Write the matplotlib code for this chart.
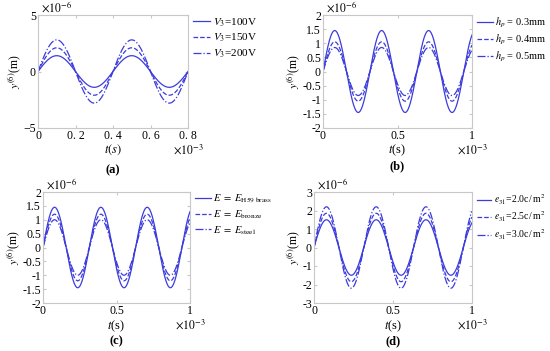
import numpy as np
import matplotlib
matplotlib.use("Agg")
import matplotlib.pyplot as plt

plt.rcParams["font.family"] = "serif"
plt.rcParams["font.serif"] = ["Liberation Serif", "DejaVu Serif"]
plt.rcParams["mathtext.fontset"] = "stix"
plt.rcParams["axes.unicode_minus"] = False

# values (t in 1e-3 s, y in 1e-6 m)
t_end_a = 0.8
period_a = 0.4
amp_a = [1.4, 2.1, 2.8]
labels_a = [r"$V_3$=100V", r"$V_3$=150V", r"$V_3$=200V"]

t_end_bcd = 1.0
period_bcd = 0.315
amp_b = [1.45, 1.05, 0.85]
labels_b = [r"$h_p$ = 0.3mm", r"$h_p$ = 0.4mm", r"$h_p$ = 0.5mm"]
amp_c = [1.45, 1.2, 1.0]
labels_c = [r"$E\ =\ E_{\rm H59\ brass}$", r"$E\ =\ E_{\rm bronze}$", r"$E\ =\ E_{\rm steel}$"]
amp_d = [1.5, 1.85, 2.2]
labels_d = [r"$e_{31}$=2.0c$\,$/$\,$m$^2$", r"$e_{31}$=2.5c$\,$/$\,$m$^2$",
            r"$e_{31}$=3.0c$\,$/$\,$m$^2$"]

xticks_a = [0, 0.2, 0.4, 0.6, 0.8]
xticklabels_a = ["0", "0. 2", "0. 4", "0. 6", "0. 8"]
xticks_bcd = [0, 0.5, 1]
xticklabels_bcd = ["0", "0.5", "1"]

styles = ["-", "--", "-."]
blue = "#3c3cdc"
W, H = 550, 351

fig = plt.figure(figsize=(5.5, 3.51), dpi=100)


def box(l, t, r, b):
    return [l / W, 1 - b / H, (r - l) / W, (b - t) / H]


def panel(rect, t_end, period, amps, labels, ylim, yticks, yticklabels,
          xticks, xticklabels, tag, xlab, xlab_y, tag_y, leg_x, leg_fs):
    ax = fig.add_axes(box(*rect))
    t = np.linspace(0, t_end, 600)
    for a, ls, lab in zip(amps, styles, labels):
        ax.plot(t, a * np.sin(2 * np.pi * t / period), ls, color=blue, lw=0.9, label=lab)
    ax.set_xlim(0, t_end)
    ax.set_ylim(*ylim)
    ax.set_xticks(xticks, xticklabels)
    ax.set_yticks(yticks, yticklabels)
    ax.tick_params(direction="in", length=2, color="#c8c8c8", labelsize=8.5, pad=1.5,
                   top=True, right=True)
    for s in ax.spines.values():
        s.set_color("#c8c8c8")
        s.set_linewidth(0.8)
    ax.set_ylabel(r"$y^{(6)}$(m)", fontsize=8.5, labelpad=0)
    ax.text(0.02, 1.0, r"$\times10^{-6}$", transform=ax.transAxes, fontsize=8.5,
            va="bottom", ha="left")
    l, tp, r, b = rect
    fig.text(r / W, 1 - (b + 15) / H, r"$\times10^{-3}$", fontsize=8.5, ha="center", va="top")
    fig.text((l + r) / 2 / W, 1 - xlab_y / H, xlab, fontsize=9, ha="center", va="center")
    fig.text((l + r) / 2 / W, 1 - tag_y / H, tag, fontsize=9, fontweight="bold",
             ha="center", va="center")
    ax.legend(loc="upper left", bbox_to_anchor=((leg_x - l) / (r - l), 1.03), frameon=False,
              fontsize=leg_fs, handlelength=1.5, handletextpad=0.25, labelspacing=0.3,
              borderaxespad=0)
    return ax


panel((38, 15, 188, 128), t_end_a, period_a, amp_a, labels_a, (-5, 5), [-5, 0, 5],
      ["\u22125", "0", "5"], xticks_a, xticklabels_a, "(a)", r"$t(s)$", 150, 170, 189, 8)
panel((323, 15, 472, 128), t_end_bcd, period_bcd, amp_b, labels_b, (-2, 2),
      np.arange(-2, 2.01, 0.5), ["-2", "-1.5", "-1", "-0.5", "0", "0.5", "1", "1.5", "2"],
      xticks_bcd, xticklabels_bcd, "(b)", r"$t$(s)", 150, 166, 473, 7.5)
panel((43, 192, 190, 303), t_end_bcd, period_bcd, amp_c, labels_c, (-2, 2),
      np.arange(-2, 2.01, 0.5), ["-2", "-1.5", "-1", "-0.5", "0", "0.5", "1", "1.5", "2"],
      xticks_bcd, xticklabels_bcd, "(c)", r"$t$(s)", 326, 341, 191, 7.5)
panel((314, 192, 472, 303), t_end_bcd, period_bcd, amp_d, labels_d, (-3, 3),
      [-3, -2, -1, 0, 1, 2, 3], ["-3", "-2", "-1", "0", "1", "2", "3"],
      xticks_bcd, xticklabels_bcd, "(d)", r"$t$(s)", 326, 341, 473, 7)

fig.savefig("out.png", dpi=100)
